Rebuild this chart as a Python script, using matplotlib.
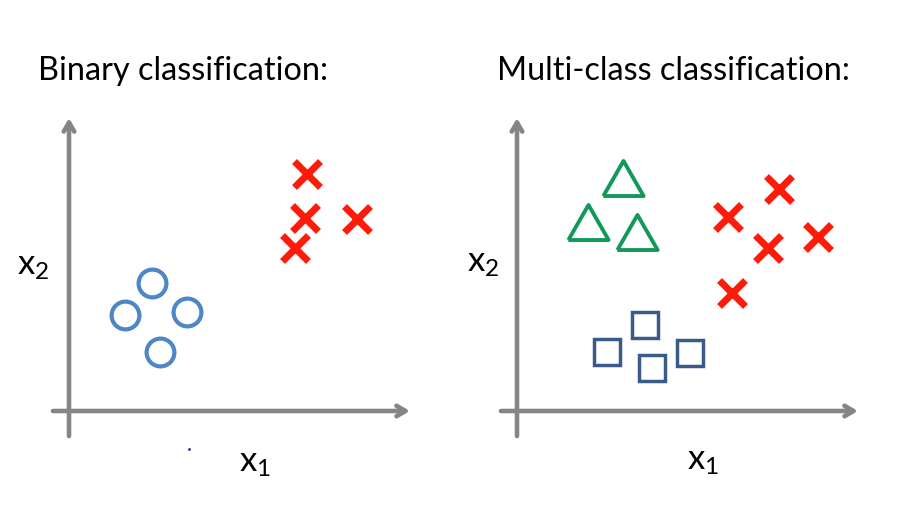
import matplotlib
matplotlib.use("Agg")
import matplotlib.pyplot as plt

plt.rcParams["font.family"] = ["Lato", "DejaVu Sans"]
plt.rcParams["mathtext.fontset"] = "custom"
plt.rcParams["mathtext.rm"] = "Lato"

# panel-local coordinates (1 unit = 1 px, origin at the axis crossing)
bin_o_x1 = [83, 56, 118, 91]
bin_o_x2 = [128, 96, 99, 59]
bin_x_x1 = [238, 236, 288, 226]
bin_x_x2 = [237, 193, 192, 163]

mc_tri_x1 = [106, 71, 120]
mc_tri_x2 = [233, 189, 179]
mc_sq_x1 = [128, 90, 135, 173]
mc_sq_x2 = [86, 59, 43, 58]
mc_x_x1 = [262, 211, 251, 301, 215]
mc_x_x2 = [222, 194, 163, 174, 118]

# stray dot below the left x1 axis
dot_x1 = [120]
dot_x2 = [-38]

titles = ["Binary classification:", "Multi-class classification:"]

GRAY = "#858585"
RED = "#ff1a0a"
BLUE = "#4f86c6"
GREEN = "#12995a"
NAVY = "#3a5a8a"

W, H = 914, 513
fig = plt.figure(figsize=(W / 100, H / 100), dpi=100)

# pixel origin of each panel
origins = [(69, 411), (517, 411)]
axes = []
for i, (ox, oy) in enumerate(origins):
    left = 0 if i == 0 else W / 2
    ax = fig.add_axes([left / W, 0, (W / 2) / W, 1])
    ax.set_xlim(-(ox - left), (W / 2) - (ox - left))
    ax.set_ylim(oy - H, oy)
    ax.axis("off")
    # axes with open arrow heads
    arrow = dict(arrowstyle="->,head_length=0.65,head_width=0.38",
                 color=GRAY, lw=3.3, shrinkA=0, shrinkB=0)
    ax.annotate("", xy=(341, 0), xytext=(-16, 0), arrowprops=arrow)
    ax.annotate("", xy=(0, 293), xytext=(0, -25), arrowprops=arrow)
    axes.append(ax)

ax1, ax2 = axes
ax1.plot(bin_o_x1, bin_o_x2, "o", ms=20, mfc="none", mec=BLUE, mew=3)
ax1.plot(bin_x_x1, bin_x_x2, "x", ms=19, mec=RED, mew=5)
ax1.plot(dot_x1, dot_x2, ".", ms=2, color="#2020c0")

tri = [(-1, -0.87), (1, -0.87), (0, 0.87), (-1, -0.87)]
ax2.plot(mc_tri_x1, mc_tri_x2, marker=tri, ls="none", ms=29, mfc="none",
         mec=GREEN, mew=2.8)
ax2.plot(mc_sq_x1, mc_sq_x2, "s", ms=18.5, mfc="none", mec=NAVY, mew=2.5)
ax2.plot(mc_x_x1, mc_x_x2, "x", ms=19, mec=RED, mew=5)

# titles and axis labels
fig.text(38 / W, 1 - 71 / H, titles[0], fontsize=23.3, va="center", ha="left")
fig.text(497 / W, 1 - 71 / H, titles[1], fontsize=23.3, va="center", ha="left")
for ax, (lx, ly), (bx, by) in [(ax1, (-36, 145), (186, -52)),
                               (ax2, (-34, 148), (186, -50))]:
    ax.text(lx, ly, r"$\mathregular{x_2}$", fontsize=25, ha="center", va="center")
    ax.text(bx, by, r"$\mathregular{x_1}$", fontsize=25, ha="center", va="center")

fig.savefig("out.png", dpi=100)
